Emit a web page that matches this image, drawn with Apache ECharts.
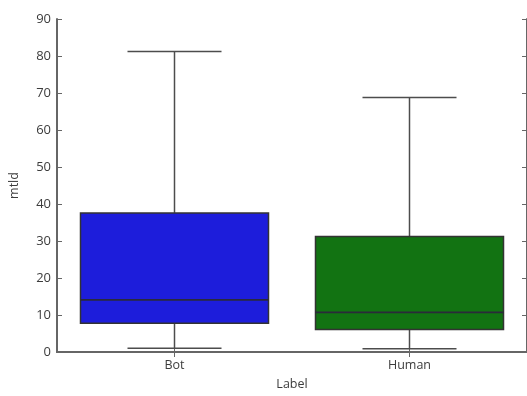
<!DOCTYPE html>
<html>
<head>
<meta charset="utf-8">
<script src="https://cdn.jsdelivr.net/npm/echarts@6/dist/echarts.min.js"></script>
<style>
  html, body { margin: 0; padding: 0; background: #fff; }
  #chart { width: 527px; height: 396px; }
</style>
</head>
<body>
<div id="chart"></div>
<script>
// Categories and five-number summaries of mtld per label
const categories = ['Bot', 'Human'];
const whiskerLow = [1.0, 0.9];
const q1 = [7.8, 6.1];
const median = [14.1, 10.7];
const q3 = [37.6, 31.2];
const whiskerHigh = [81.2, 68.8];
const boxColors = ['#1d1ddb', '#127312'];
const yTicks = [0, 10, 20, 30, 40, 50, 60, 70, 80, 90];

const lineColor = '#4d4d4d';
const spineColor = '#666';
const textColor = '#3c3c3c';
const font = '"Open Sans", "DejaVu Sans", sans-serif';

const rows = categories.map((c, i) => [i, whiskerLow[i], q1[i], median[i], q3[i], whiskerHigh[i]]);

function renderBox(params, api) {
  const idx = api.value(0);
  const band = api.size([1, 0])[0];
  const boxW = band * 0.8;
  const capW = boxW / 2;
  const x = api.coord([idx, 0])[0];
  const yLo = api.coord([idx, api.value(1)])[1];
  const yQ1 = api.coord([idx, api.value(2)])[1];
  const yMed = api.coord([idx, api.value(3)])[1];
  const yQ3 = api.coord([idx, api.value(4)])[1];
  const yHi = api.coord([idx, api.value(5)])[1];
  const ls = { stroke: lineColor, lineWidth: 1.5 };
  return {
    type: 'group',
    children: [
      { type: 'line', shape: { x1: x, y1: yHi, x2: x, y2: yQ3 }, style: ls },
      { type: 'line', shape: { x1: x, y1: yQ1, x2: x, y2: yLo }, style: ls },
      { type: 'line', shape: { x1: x - capW / 2, y1: yHi, x2: x + capW / 2, y2: yHi }, style: ls },
      { type: 'line', shape: { x1: x - capW / 2, y1: yLo, x2: x + capW / 2, y2: yLo }, style: ls },
      { type: 'rect', shape: { x: x - boxW / 2, y: yQ3, width: boxW, height: yQ1 - yQ3 },
        style: { fill: boxColors[idx], stroke: '#333', lineWidth: 1.5 } },
      { type: 'line', shape: { x1: x - boxW / 2, y1: yMed, x2: x + boxW / 2, y2: yMed },
        style: { stroke: '#2a2a3a', lineWidth: 1.8 } }
    ]
  };
}

const chart = echarts.init(document.getElementById('chart'), null, { renderer: 'canvas' });
chart.setOption({
  animation: false,
  backgroundColor: '#fff',
  grid: { left: 56, right: -3, top: 19, bottom: 42, containLabel: false },
  xAxis: [
    {
      type: 'category', data: categories, position: 'bottom',
      name: 'Label', nameLocation: 'middle', nameGap: 26,
      nameTextStyle: { color: textColor, fontSize: 12.5, fontFamily: font },
      axisLine: { lineStyle: { color: spineColor, width: 2 } },
      axisTick: { show: true, inside: true, alignWithLabel: true, length: 5, lineStyle: { color: spineColor } },
      axisLabel: { color: textColor, fontSize: 12.5, fontFamily: font, margin: 7 },
      splitLine: { show: false }
    },
    {
      type: 'category', data: categories, position: 'top',
      axisLine: { lineStyle: { color: spineColor, width: 2 } },
      axisTick: { show: true, inside: true, alignWithLabel: true, length: 5, lineStyle: { color: spineColor } },
      axisLabel: { show: false }
    }
  ],
  yAxis: [
    {
      type: 'value', min: 0, max: 90, interval: 10, position: 'left',
      name: 'mtld', nameLocation: 'middle', nameGap: 36, nameRotate: 90,
      nameTextStyle: { color: textColor, fontSize: 12.5, fontFamily: font },
      axisLine: { show: true, lineStyle: { color: spineColor, width: 2 } },
      axisTick: { show: true, inside: true, length: 5, lineStyle: { color: spineColor } },
      axisLabel: { color: textColor, fontSize: 13, fontFamily: font, margin: 6,
        formatter: v => yTicks.includes(v) ? String(v) : '' },
      splitLine: { show: false }
    },
    {
      type: 'value', min: 0, max: 90, interval: 10, position: 'right',
      axisLine: { show: true, lineStyle: { color: spineColor, width: 2 } },
      axisTick: { show: true, inside: true, length: 5, lineStyle: { color: spineColor } },
      axisLabel: { show: false },
      splitLine: { show: false }
    }
  ],
  series: [{
    type: 'custom',
    xAxisIndex: 0, yAxisIndex: 0,
    renderItem: renderBox,
    encode: { x: 0, y: [1, 2, 3, 4, 5] },
    data: rows
  }]
});
</script>
</body>
</html>
